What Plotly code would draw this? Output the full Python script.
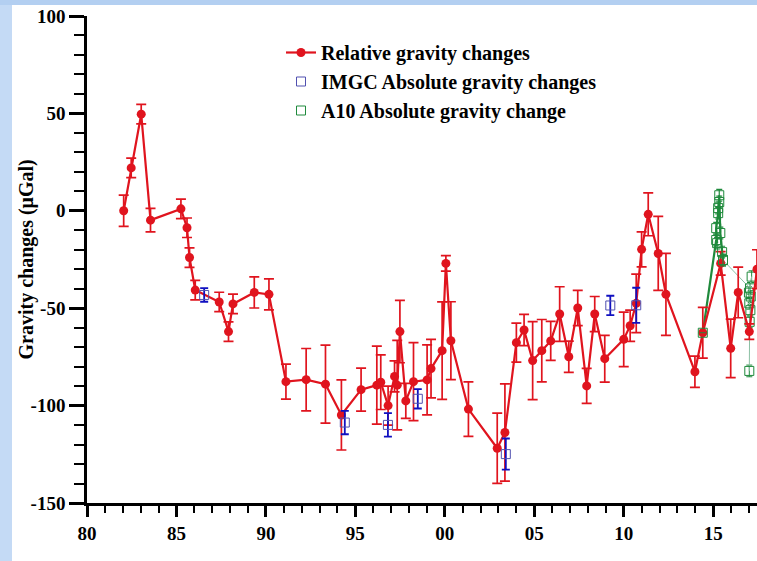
import plotly.graph_objects as go

# ---- data (year offset from 1900, gravity change in µGal, error) ----
rel_x = [82.05, 82.47, 83.03, 83.55, 85.25, 85.59, 85.73, 86.05, 87.39, 87.91, 88.16,
         89.35, 90.17, 91.12, 92.25, 93.33, 94.22, 95.32, 96.2, 96.42, 96.83, 97.19,
         97.34, 97.49, 97.82, 98.25, 99.01, 99.23, 99.85, 100.06, 100.34, 101.32,
         102.93, 103.36, 104.0, 104.43, 104.91, 105.42, 105.92, 106.42, 106.93,
         107.43, 107.93, 108.38, 108.94, 110.0, 110.36, 110.7, 111.0, 111.37, 111.93,
         112.36, 113.98, 114.42, 115.42, 115.98, 116.4, 117.02, 117.45]
rel_y = [0, 22, 49.6, -4.8, 1, -8.7, -24, -40.7, -46.8, -62, -47.8,
         -41.9, -42.9, -87.7, -86.7, -89, -104.8, -91.8, -89.5, -88, -100, -85,
         -89.5, -62, -97.6, -87.7, -86.8, -81, -71.8, -27, -66.7, -101.8,
         -121.9, -113.8, -67.7, -61.2, -76.9, -71.8, -66.8, -53, -74.9,
         -49.9, -89.9, -53, -75.9, -66, -59, -47.5, -19.8, -1.8, -21.9,
         -42.9, -82.6, -62.6, -27, -70.6, -41.9, -62, -30]
rel_e = [8, 5, 5, 6, 5, 5, 5, 5, 5, 5, 5,
         8, 8, 9, 16, 20, 18, 11, 20, 14, 10, 8,
         23, 16, 9, 20, 18, 15, 25, 4, 20, 14,
         18, 25, 10, 8, 20, 16, 10, 14, 8,
         9, 9, 9, 12, 14, 8, 15, 9, 11, 19,
         21, 8, 13, 6, 15, 13, 4, 10]

imgc_x = [86.55, 94.41, 96.82, 98.49, 103.41, 109.25, 110.7]
imgc_y = [-43.2, -108.7, -109.9, -96.5, -124.9, -48.6, -48.5]
imgc_e = [3.5, 6, 6, 5, 8, 5, 9]

a10_x = [114.42, 115.17, 115.22, 115.17, 115.28, 115.28, 115.34, 115.34, 115.4, 115.5, 115.55]
a10_y = [-62.6, -15, -16.6, -8.9, -1.2, 1.4, 4.5, 8.0, -11.4, -21.2, -25.3]
a10_e = [0, 3, 3, 3, 3, 3, 3, 3, 3, 3, 3]

a10b_x = [115.55, 117.06, 117.15, 117.0, 117.1, 117.02, 117.08, 117.04, 117.02]
a10b_y = [-25.3, -39.8, -33.8, -42, -44, -47.5, -51, -57, -82.2]
a10b_e = [3, 3, 3, 3, 3, 3, 3, 3, 3]

x_ticks = [80, 85, 90, 95, 100, 105, 110, 115]
x_tick_labels = ['80', '85', '90', '95', '00', '05', '10', '15']
y_ticks = [-150, -100, -50, 0, 50, 100]
y_tick_labels = ['-150', '-100', '-50', '0', '50', '100']

RED = '#e0141e'
BLUE = '#1010c0'
GREEN = '#1f8a3c'
FONT = 'Liberation Serif, Times New Roman, serif'

fig = go.Figure()

# A10 thin connecting part (no legend)
fig.add_trace(go.Scatter(
    x=a10b_x, y=a10b_y, mode='lines+markers', showlegend=False,
    line=dict(color='#8cc0a4', width=1),
    marker=dict(symbol='square-open', size=9, color=GREEN, line=dict(width=1)),
    error_y=dict(type='data', array=a10b_e, color=GREEN, thickness=1, width=3),
))
# A10 connecting line (no legend)
fig.add_trace(go.Scatter(
    x=a10_x, y=a10_y, mode='lines', showlegend=False,
    line=dict(color=GREEN, width=2.2),
))

fig.add_trace(go.Scatter(
    x=rel_x, y=rel_y, mode='lines+markers', name='Relative gravity changes',
    line=dict(color=RED, width=2.2),
    marker=dict(symbol='circle', size=9, color=RED),
    error_y=dict(type='data', array=rel_e, color=RED, thickness=1.7, width=5),
    legendgroup='a', legendrank=1,
))

fig.add_trace(go.Scatter(
    x=imgc_x, y=imgc_y, mode='markers', name='IMGC Absolute gravity changes',
    marker=dict(symbol='square-open', size=9, color='#5050b0', line=dict(width=1)),
    error_y=dict(type='data', array=imgc_e, color=BLUE, thickness=1.8, width=4),
    legendgroup='b', legendrank=2,
))

fig.add_trace(go.Scatter(
    x=a10_x, y=a10_y, mode='markers', name='A10 Absolute gravity change',
    marker=dict(symbol='square-open', size=9, color=GREEN, line=dict(width=1)),
    error_y=dict(type='data', array=a10_e, color=GREEN, thickness=1.2, width=3),
    legendgroup='c', legendrank=3,
))

W, H = 757, 561
L, R, T, B = 87, 0, 16, 58
pw = W - L - R
ph = H - T - B

def px_x(p):
    return (p - L) / pw

def px_y(p):
    return (H - B - p) / ph

shapes = [
    dict(type='rect', xref='paper', yref='paper', x0=px_x(0), x1=px_x(12),
         y0=px_y(H), y1=px_y(0), fillcolor='#c4daf5', line=dict(width=0), layer='below'),
    dict(type='rect', xref='paper', yref='paper', x0=px_x(0), x1=px_x(W),
         y0=px_y(5), y1=px_y(0), fillcolor='#b3cff1', line=dict(width=0), layer='below'),
]

annotations = [
    dict(text='Gravity changes (μGal)', xref='paper', yref='paper',
         x=px_x(26), y=0.5, xanchor='center', yanchor='middle', textangle=-90,
         showarrow=False, font=dict(family=FONT, size=20, weight='bold', color='black')),
]

fig.update_layout(
    width=W, height=H,
    margin=dict(l=L, r=R, t=T, b=B, pad=0),
    paper_bgcolor='white', plot_bgcolor='white',
    font=dict(family=FONT, color='black', size=18),
    shapes=shapes,
    annotations=annotations,
    showlegend=True,
    legend=dict(x=px_x(281), y=px_y(33), xanchor='left', yanchor='top',
                bgcolor='rgba(0,0,0,0)', tracegroupgap=0,
                font=dict(family=FONT, size=20, weight='bold')),
    xaxis=dict(range=[80, 117.45], tickvals=x_ticks, ticktext=x_tick_labels,
               showgrid=False, zeroline=False, showline=True, linecolor='black',
               linewidth=2.5, ticks='outside', ticklen=11, tickwidth=2.5,
               tickcolor='black', tickfont=dict(family=FONT, size=19, weight='bold'),
               minor=dict(dtick=1, ticks='outside', ticklen=7, tickwidth=2,
                          tickcolor='black', showgrid=False)),
    yaxis=dict(range=[-150, 100], tickvals=y_ticks, ticktext=y_tick_labels,
               showgrid=False, zeroline=False,
               showline=True, linecolor='black', linewidth=2.5, ticks='outside',
               ticklen=15, tickwidth=2.5, tickcolor='black',
               tickfont=dict(family=FONT, size=19, weight='bold'),
               minor=dict(dtick=10, ticks='outside', ticklen=10, tickwidth=2,
                          tickcolor='black', showgrid=False)),
)

fig.write_html('out.html')
